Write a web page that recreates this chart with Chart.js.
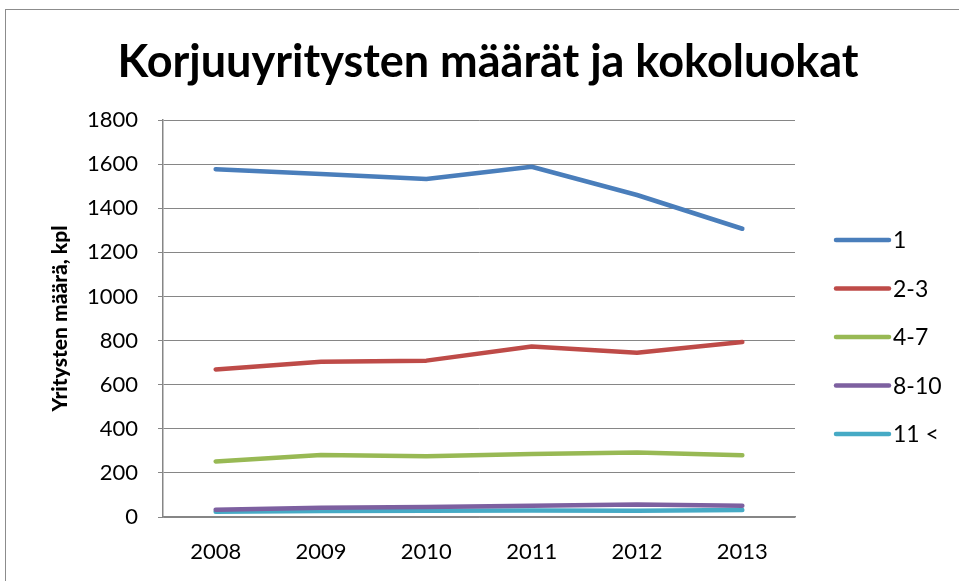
<!DOCTYPE html>
<html>
<head>
<meta charset="utf-8">
<script src="https://cdn.jsdelivr.net/npm/chart.js@4.4.0/dist/chart.umd.min.js"></script>
<style>
  html, body { margin: 0; padding: 0; background: #fff; overflow: hidden; }
  #wrap { position: relative; width: 959px; height: 581px; }
  #frame { position: absolute; left: 5px; top: 9px; width: 970px; height: 600px; border: 1px solid #8c8c8c; }
  canvas { position: absolute; left: 0; top: 0; }
</style>
</head>
<body>
<div id="wrap">
  <div id="frame"></div>
  <canvas id="chart" width="959" height="581"></canvas>
</div>
<script>
const years = ['2008', '2009', '2010', '2011', '2012', '2013'];
const seriesNames = ['1', '2-3', '4-7', '8-10', '11 <'];
const size1 = [1577, 1555, 1532, 1588, 1460, 1307];
const size2to3 = [669, 704, 709, 773, 745, 793];
const size4to7 = [252, 281, 276, 286, 293, 280];
const size8to10 = [33, 42, 45, 51, 57, 51];
const size11plus = [24, 27, 28, 30, 28, 32];
const colors = ['#4a7ebb', '#be4b48', '#98b954', '#7d60a0', '#46aac5'];

const titleText = 'Korjuuyritysten määrät ja kokoluokat';
const yTitle = 'Yritysten määrä, kpl';
const fontFam = 'Lato, "Open Sans", sans-serif';

// title + legend drawn by hand so they sit where the original has them
const extras = {
  id: 'extras',
  afterDraw(chart) {
    const ctx = chart.ctx;
    ctx.save();
    ctx.fillStyle = '#000';
    ctx.font = 'bold 45px ' + fontFam;
    ctx.textAlign = 'center';
    ctx.textBaseline = 'middle';
    ctx.fillText(titleText, 488, 62);

    ctx.font = '23px ' + fontFam;
    ctx.textAlign = 'left';
    chart.data.datasets.forEach((ds, i) => {
      const y = 240 + i * 48.5;
      ctx.strokeStyle = ds.borderColor;
      ctx.lineWidth = 4.5;
      ctx.lineCap = 'round';
      ctx.beginPath();
      ctx.moveTo(836, y);
      ctx.lineTo(889, y);
      ctx.stroke();
      ctx.fillText(ds.label, 893, y + 1);
    });
    ctx.restore();
  },
};

const allData = [size1, size2to3, size4to7, size8to10, size11plus];

new Chart(document.getElementById('chart'), {
  type: 'line',
  data: {
    labels: years,
    datasets: seriesNames.map((name, i) => ({
      label: name,
      data: allData[i],
      borderColor: colors[i],
      backgroundColor: colors[i],
      borderWidth: 4.5,
      pointRadius: 0,
      tension: 0,
      borderCapStyle: 'round',
      borderJoinStyle: 'round',
    })),
  },
  options: {
    responsive: false,
    animation: false,
    layout: { padding: { left: 46, right: 164, top: 120, bottom: 0 } },
    plugins: {
      legend: { display: false },
      title: { display: false },
      tooltip: { enabled: false },
    },
    scales: {
      x: {
        offset: true,
        grid: { display: false, drawTicks: false },
        border: { color: '#868686', width: 1.5 },
        ticks: { color: '#000', font: { family: fontFam, size: 22 }, padding: 22 },
        afterFit(scale) { scale.height = 64; },
      },
      y: {
        min: 0,
        max: 1800,
        ticks: {
          stepSize: 200,
          color: '#000',
          font: { family: fontFam, size: 22 },
          padding: 20,
          callback: (v) => String(v),
        },
        grid: { color: '#868686', lineWidth: 1, tickLength: 5 },
        border: { color: '#868686', width: 1.5 },
        title: {
          display: true,
          text: yTitle,
          color: '#000',
          font: { family: fontFam, size: 21, weight: '900' },
          padding: 2,
        },
        afterFit(scale) { scale.width = 117; },
      },
    },
  },
  plugins: [extras],
});
</script>
</body>
</html>
